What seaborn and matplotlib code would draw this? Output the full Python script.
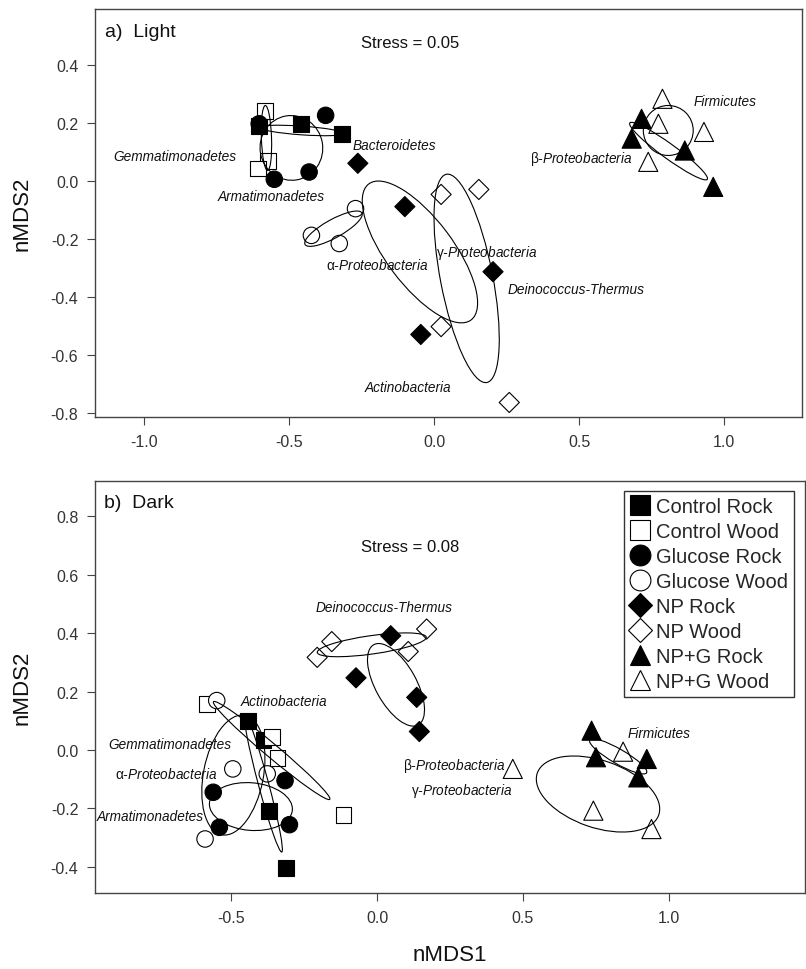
import matplotlib
matplotlib.use("Agg")
import matplotlib.pyplot as plt
from matplotlib.patches import Ellipse
from matplotlib.lines import Line2D
import pandas as pd
import seaborn as sns

# ---- data: panel a) Light ----
light_group = (["Control Rock"] * 3 + ["Control Wood"] * 3 + ["Glucose Rock"] * 4 +
               ["Glucose Wood"] * 3 + ["NP Rock"] * 4 + ["NP Wood"] * 4 +
               ["NP+G Rock"] * 4 + ["NP+G Wood"] * 4)
light_x = [-0.603, -0.460, -0.318,
           -0.582, -0.572, -0.607,
           -0.603, -0.374, -0.551, -0.431,
           -0.271, -0.423, -0.327,
           -0.263, -0.101, 0.203, -0.046,
           0.024, 0.154, 0.024, 0.259,
           0.715, 0.681, 0.864, 0.962,
           0.787, 0.773, 0.930, 0.738]
light_y = [0.187, 0.195, 0.162,
           0.240, 0.068, 0.042,
           0.196, 0.225, 0.005, 0.030,
           -0.096, -0.188, -0.216,
           0.060, -0.089, -0.313, -0.529,
           -0.047, -0.030, -0.502, -0.763,
           0.213, 0.145, 0.104, -0.021,
           0.282, 0.196, 0.168, 0.065]

# ellipses (centre, full width, full height, angle in degrees)
light_ell_x = [-0.457, -0.578, -0.492, -0.347, -0.049, 0.112, 0.807, 0.808]
light_ell_y = [0.173, 0.147, 0.113, -0.165, -0.245, -0.336, 0.173, 0.102]
light_ell_w = [0.29, 0.224, 0.216, 0.224, 0.586, 0.73, 0.172, 0.33]
light_ell_h = [0.03, 0.035, 0.223, 0.063, 0.23, 0.18, 0.172, 0.05]
light_ell_ang = [-4, 92, 10, 29, -53, -79, 0, -36]

light_taxa = ["Gemmatimonadetes", "Armatimonadetes", "Bacteroidetes",
              r"$\mathrm{\alpha}$-Proteobacteria", r"$\mathrm{\gamma}$-Proteobacteria",
              "Deinococcus-Thermus", "Actinobacteria", "Firmicutes",
              r"$\mathrm{\beta}$-Proteobacteria"]
light_taxa_x = [-0.894, -0.563, -0.136, -0.196, 0.183, 0.489, -0.089, 1.002, 0.506]
light_taxa_y = [0.086, -0.051, 0.124, -0.288, -0.244, -0.371, -0.711, 0.273, 0.079]

# ---- data: panel b) Dark ----
dark_group = (["Control Rock"] * 4 + ["Control Wood"] * 4 + ["Glucose Rock"] * 4 +
              ["Glucose Wood"] * 4 + ["NP Rock"] * 4 + ["NP Wood"] * 4 +
              ["NP+G Rock"] * 4 + ["NP+G Wood"] * 4)
dark_x = [-0.441, -0.389, -0.369, -0.312,
          -0.583, -0.361, -0.341, -0.115,
          -0.315, -0.561, -0.300, -0.540,
          -0.549, -0.494, -0.376, -0.589,
          0.047, -0.072, 0.136, 0.145,
          -0.155, -0.205, 0.170, 0.107,
          0.735, 0.750, 0.924, 0.895,
          0.843, 0.741, 0.465, 0.940]
dark_y = [0.100, 0.035, -0.210, -0.405,
          0.158, 0.043, -0.027, -0.222,
          -0.105, -0.145, -0.256, -0.265,
          0.169, -0.065, -0.082, -0.305,
          0.391, 0.247, 0.180, 0.063,
          0.371, 0.317, 0.414, 0.337,
          0.066, -0.025, -0.031, -0.094,
          -0.006, -0.208, -0.065, -0.271]

dark_ell_x = [-0.432, -0.492, -0.389, -0.361, -0.018, 0.065, 0.826, 0.757]
dark_ell_y = [-0.194, -0.086, -0.116, -0.002, 0.360, 0.223, -0.022, -0.151]
dark_ell_w = [0.285, 0.417, 0.484, 0.52, 0.377, 0.314, 0.225, 0.44]
dark_ell_h = [0.163, 0.205, 0.035, 0.046, 0.063, 0.14, 0.05, 0.23]
dark_ell_ang = [-5, 79, -75, -40, 8, -61, -30, -19]

dark_taxa = ["Deinococcus-Thermus", "Actinobacteria", "Gemmatimonadetes",
             r"$\mathrm{\alpha}$-Proteobacteria", "Armatimonadetes",
             r"$\mathrm{\beta}$-Proteobacteria", r"$\mathrm{\gamma}$-Proteobacteria",
             "Firmicutes"]
dark_taxa_x = [0.025, -0.318, -0.711, -0.721, -0.776, 0.264, 0.290, 0.967]
dark_taxa_y = [0.489, 0.169, 0.021, -0.080, -0.228, -0.051, -0.137, 0.057]

groups = ["Control Rock", "Control Wood", "Glucose Rock", "Glucose Wood",
          "NP Rock", "NP Wood", "NP+G Rock", "NP+G Wood"]

# ---- styling ----
sns.set_theme(style="ticks")
plt.rcParams["font.family"] = ["Liberation Sans", "DejaVu Sans"]
plt.rcParams["mathtext.fontset"] = "custom"
plt.rcParams["mathtext.rm"] = "Liberation Sans"
plt.rcParams["mathtext.it"] = "Liberation Sans:italic"
plt.rcParams["axes.unicode_minus"] = False

marker_map = {"Control Rock": "s", "Control Wood": "s", "Glucose Rock": "o",
              "Glucose Wood": "o", "NP Rock": "D", "NP Wood": "D",
              "NP+G Rock": "^", "NP+G Wood": "^"}
face_map = {g: ("black" if "Rock" in g else "white") for g in groups}
size_map = {"Control Rock": 130, "Control Wood": 130, "Glucose Rock": 140,
            "Glucose Wood": 140, "NP Rock": 105, "NP Wood": 105,
            "NP+G Rock": 190, "NP+G Wood": 190}
spine_col = "#444444"


def draw_panel(ax, xs, ys, grp, ex, ey, ew, eh, ea, taxa, tx, ty):
    df = pd.DataFrame({"x": xs, "y": ys, "group": grp})
    sns.scatterplot(data=df, x="x", y="y", hue="group", style="group", size="group",
                    hue_order=groups, style_order=groups, size_order=groups,
                    palette=face_map, markers=marker_map, sizes=size_map,
                    edgecolor="black", linewidth=0.8, legend=False, ax=ax, zorder=2)
    for cx, cy, w, h, a in zip(ex, ey, ew, eh, ea):
        ax.add_patch(Ellipse((cx, cy), w, h, angle=a, fill=False,
                             edgecolor="black", linewidth=0.8, zorder=3))
    for t, x, y in zip(taxa, tx, ty):
        ax.text(x, y, t, fontsize=9.8, style="italic", ha="center", va="center",
                color="#111111", zorder=4)
    ax.set_xlabel("")
    ax.set_ylabel("nMDS2", fontsize=16, color="#111111")
    for s in ax.spines.values():
        s.set_color(spine_col)
        s.set_linewidth(1.0)
    ax.tick_params(length=6, width=0.8, color=spine_col, labelsize=11.5,
                   labelcolor="#333333", pad=6)


fig = plt.figure(figsize=(8.06, 9.70), dpi=100)
ax1 = fig.add_axes([95 / 806, 1 - 418 / 970, 707 / 806, 408 / 970])
ax2 = fig.add_axes([95 / 806, 1 - 894 / 970, 710 / 806, 412 / 970])

draw_panel(ax1, light_x, light_y, light_group, light_ell_x, light_ell_y, light_ell_w,
           light_ell_h, light_ell_ang, light_taxa, light_taxa_x, light_taxa_y)
draw_panel(ax2, dark_x, dark_y, dark_group, dark_ell_x, dark_ell_y, dark_ell_w,
           dark_ell_h, dark_ell_ang, dark_taxa, dark_taxa_x, dark_taxa_y)

ax1.set_xlim(-1.169, 1.268)
ax1.set_ylim(-0.813, 0.591)
ax1.set_xticks([-1.0, -0.5, 0.0, 0.5, 1.0])
ax1.set_yticks([-0.8, -0.6, -0.4, -0.2, 0.0, 0.2, 0.4])
ax2.set_xlim(-0.966, 1.466)
ax2.set_ylim(-0.490, 0.921)
ax2.set_xticks([-0.5, 0.0, 0.5, 1.0])
ax2.set_yticks([-0.4, -0.2, 0.0, 0.2, 0.4, 0.6, 0.8])
for ax in (ax1, ax2):
    ax.xaxis.set_major_formatter(matplotlib.ticker.FormatStrFormatter("%.1f"))
    ax.yaxis.set_major_formatter(matplotlib.ticker.FormatStrFormatter("%.1f"))
    ax.yaxis.set_label_coords(-0.088, 0.5)

ax2.set_xlabel("nMDS1", fontsize=16, color="#111111", labelpad=14)

ax1.text(0.014, 0.944, "a)  Light", transform=ax1.transAxes, fontsize=14,
         ha="left", va="center", color="#111111")
ax1.text(0.446, 0.919, "Stress = 0.05", transform=ax1.transAxes, fontsize=12,
         ha="center", va="center", color="#111111")
ax2.text(0.012, 0.949, "b)  Dark", transform=ax2.transAxes, fontsize=14,
         ha="left", va="center", color="#111111")
ax2.text(0.444, 0.840, "Stress = 0.08", transform=ax2.transAxes, fontsize=12,
         ha="center", va="center", color="#111111")

handles = [Line2D([], [], linestyle="none", marker=marker_map[g],
                  markerfacecolor=face_map[g], markeredgecolor="black",
                  markeredgewidth=0.8,
                  markersize={"s": 14, "o": 15, "D": 12, "^": 14}[marker_map[g]])
           for g in groups]
leg = ax2.legend(handles, groups, loc="upper right", bbox_to_anchor=(0.9845, 0.976),
                 borderaxespad=0, fontsize=14.5, frameon=True, fancybox=False,
                 handlelength=1.0, handletextpad=0.3, labelspacing=0.3,
                 borderpad=0.3)
leg.get_frame().set_edgecolor("black")
leg.get_frame().set_linewidth(1.0)

fig.savefig("out.png", dpi=100)
